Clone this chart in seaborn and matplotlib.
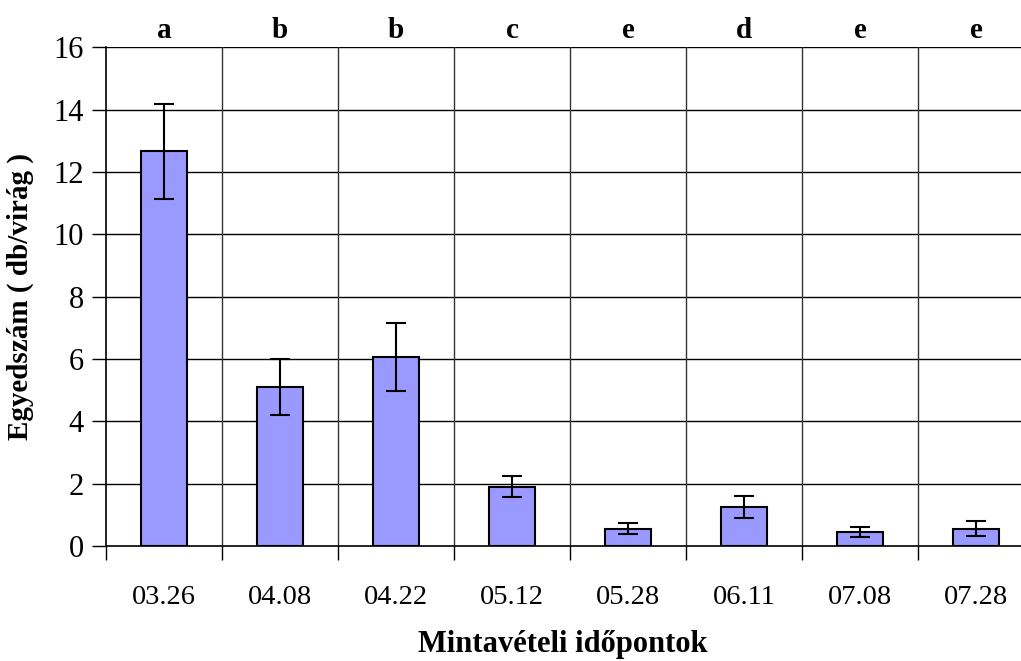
import matplotlib
matplotlib.use("Agg")
import matplotlib.pyplot as plt
import seaborn as sns
import pandas as pd
import numpy as np

# Sampling dates, mean counts per flower, standard errors and significance letters
dates = ["03.26", "04.08", "04.22", "05.12", "05.28", "06.11", "07.08", "07.28"]
means = [12.66, 5.11, 6.07, 1.90, 0.56, 1.26, 0.45, 0.56]
errors = [1.53, 0.90, 1.10, 0.33, 0.19, 0.35, 0.15, 0.25]
letters = ["a", "b", "b", "c", "e", "d", "e", "e"]
yticks = [0, 2, 4, 6, 8, 10, 12, 14, 16]

sns.set_theme(style="white")
plt.rcParams["font.family"] = ["Liberation Serif", "DejaVu Serif"]

df = pd.DataFrame({"date": dates, "mean": means})

fig = plt.figure(figsize=(10.21, 6.61), dpi=100)
W, H = 1021, 661
left, right, top, bottom = 106, 1034, 47.3, 546
ax = fig.add_axes([left / W, 1 - bottom / H, (right - left) / W, (bottom - top) / H])

sns.barplot(data=df, x="date", y="mean", color="#9999FF", saturation=1,
            width=0.4, edgecolor="black", linewidth=1.5, errorbar=None, ax=ax, zorder=3)
ax.errorbar(np.arange(len(dates)), means, yerr=errors, fmt="none", ecolor="black",
            elinewidth=1.5, capsize=7.5, capthick=1.5, zorder=4)

ax.set_xlim(-0.5, len(dates) - 0.5)
ax.set_ylim(0, 16)
ax.set_yticks(yticks)
ax.set_yticklabels([str(v) for v in yticks], fontsize=22)

# category labels at bar centres, tick marks at category boundaries
ax.set_xticks(np.arange(len(dates)))
ax.set_xticklabels(dates, fontsize=20.5)
ax.set_xticks(np.arange(len(dates) + 1) - 0.5, minor=True)
ax.tick_params(axis="x", which="major", length=0, pad=28, colors="black")
ax.tick_params(axis="x", which="minor", length=10, width=1, color="black", direction="out")
ax.tick_params(axis="y", which="major", length=10, width=1, color="black",
               direction="out", pad=6, colors="black")
ax.tick_params(axis="y", left=True)
ax.tick_params(axis="x", which="minor", bottom=True)

ax.grid(False)
for v in yticks[1:]:
    ax.axhline(v, color="black", lw=1, zorder=1)
for b in np.arange(1, len(dates)) - 0.5:
    ax.axvline(b, color="#333333", lw=1, zorder=1)

for side in ["top", "right"]:
    ax.spines[side].set_visible(False)
for side in ["left", "bottom"]:
    ax.spines[side].set_visible(True)
    ax.spines[side].set_color("black")
    ax.spines[side].set_linewidth(1.2)

for i, t in enumerate(letters):
    ax.text(i, 16.55, t, ha="center", va="center", fontsize=21, fontweight="bold",
            color="black")

ax.set_xlabel("")
ax.set_ylabel("Egyedszám ( db/virág )", fontsize=21, fontweight="bold", labelpad=14,
              color="black")
fig.text(563 / W, 1 - 652 / H, "Mintavételi időpontok", ha="center", va="baseline",
         fontsize=22, fontweight="bold", color="black")

fig.savefig("out.png", dpi=100, facecolor="white")
